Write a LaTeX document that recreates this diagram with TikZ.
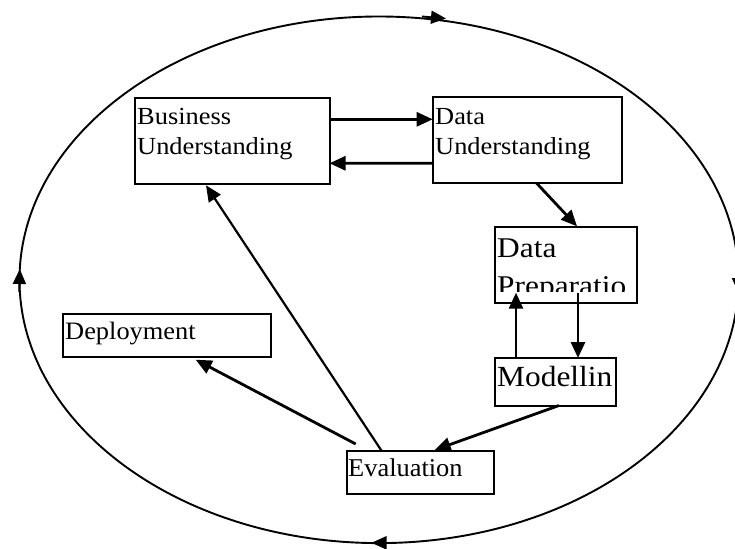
\documentclass[tikz,border=0pt]{standalone}
\usepackage{fontspec}
\setmainfont{Liberation Serif}
\usepackage{graphicx}
\usetikzlibrary{arrows.meta}
\newcommand\txtS{\fontsize{26.4pt}{30pt}\selectfont}
\newcommand\txtL{\fontsize{31.4pt}{33pt}\selectfont}
\newcommand\sq[2]{\scalebox{1}[#1]{#2}}
\begin{document}
\begin{tikzpicture}[x=1pt,y=-1pt,
  box/.style={draw, line width=2pt, inner sep=0pt, outer sep=0pt, anchor=north west},
  lbl/.style={inner sep=0pt, anchor=base west, font=\txtS},
  lblL/.style={inner sep=0pt, anchor=base west, font=\txtL},
  arr/.style={line width=2.8pt, -{Triangle[length=16pt,width=14pt]}},
  thinarr/.style={line width=2.2pt, -{Triangle[length=16pt,width=14pt]}},
  cyc/.style={line width=1.9pt},
  cycarr/.style={line width=1.9pt, -{Triangle[length=15pt,width=13pt]}}]
\useasboundingbox (0,0) rectangle (735,548);
\clip (0,0) rectangle (735,548);
% outer cycle
\draw[cyc] (379,279.8) ellipse [x radius=359.5pt, y radius=263.3pt];
\draw[cycarr] (422,16.5) -- (446,18.5);
\draw[cycarr] (738.5,270) -- (738.5,293);
\draw[cycarr] (395,542.8) -- (371.5,542.8);
\draw[cycarr] (19.2,292) -- (19.8,269);
% boxes
\node[box, minimum width=194.5pt, minimum height=86.3pt] (bu) at (135,98) {};
\node[box, minimum width=189.3pt, minimum height=86pt] (du) at (432.7,97.3) {};
\node[box, minimum width=142.3pt, minimum height=75.4pt] (dp) at (495,227.3) {};
\node[box, minimum width=121pt, minimum height=47.5pt] (mo) at (495,358) {};
\node[box, minimum width=208.3pt, minimum height=42.7pt] (de) at (62.7,314) {};
\node[box, minimum width=147.6pt, minimum height=43pt] (ev) at (346.7,451) {};
% labels
\node[lbl] (bu1) at (137,124.3) {\sq{0.93}{Business}};
\node[lbl] (bu2) at (137,154.3) {\sq{0.93}{Understanding}};
\node[lbl] (du1) at (435,124.3) {\sq{0.93}{Data}};
\node[lbl] (du2) at (435,154.3) {\sq{0.93}{Understanding}};
\node[lblL] (dp1) at (497,257.3) {\sq{0.91}{Data}};
\begin{scope}
\clip (495,227) rectangle (637,291.7);
\node[lblL] (dp2) at (497,295.7) {\sq{0.91}{Preparatio}};
\end{scope}
\node[lblL] (mo1) at (497,386.5) {\sq{0.93}{Modellin}};
\node[lbl] (de1) at (65,339) {\sq{0.95}{Deployment}};
\node[lbl] (ev1) at (348,476) {\sq{0.97}{Evaluation}};
% connectors
\draw[arr] ([yshift=-21.3pt]bu.north east) -- ([yshift=-22pt]du.north west);
\draw[arr] ([yshift=20pt]du.south west) -- ([yshift=21pt]bu.south east);
\draw[arr] ([xshift=104pt]du.south west) -- ([xshift=82pt,yshift=1pt]dp.north west);
\draw[arr] ([xshift=21pt]mo.north west) -- ([xshift=21pt,yshift=10pt]dp.south west);
\draw[arr] ([xshift=83pt,yshift=10pt]dp.south west) -- ([xshift=83pt]mo.north west);
\draw[arr] ([xshift=64pt]mo.south west) -- ([xshift=88pt,yshift=1pt]ev.north west);
\draw[arr] ([xshift=9pt,yshift=7pt]ev.north west) -- ([xshift=133pt,yshift=-3pt]de.south west);
\draw[thinarr] ([xshift=35pt]ev.north west) -- ([xshift=71pt,yshift=-1pt]bu.south west);
\end{tikzpicture}
\end{document}
